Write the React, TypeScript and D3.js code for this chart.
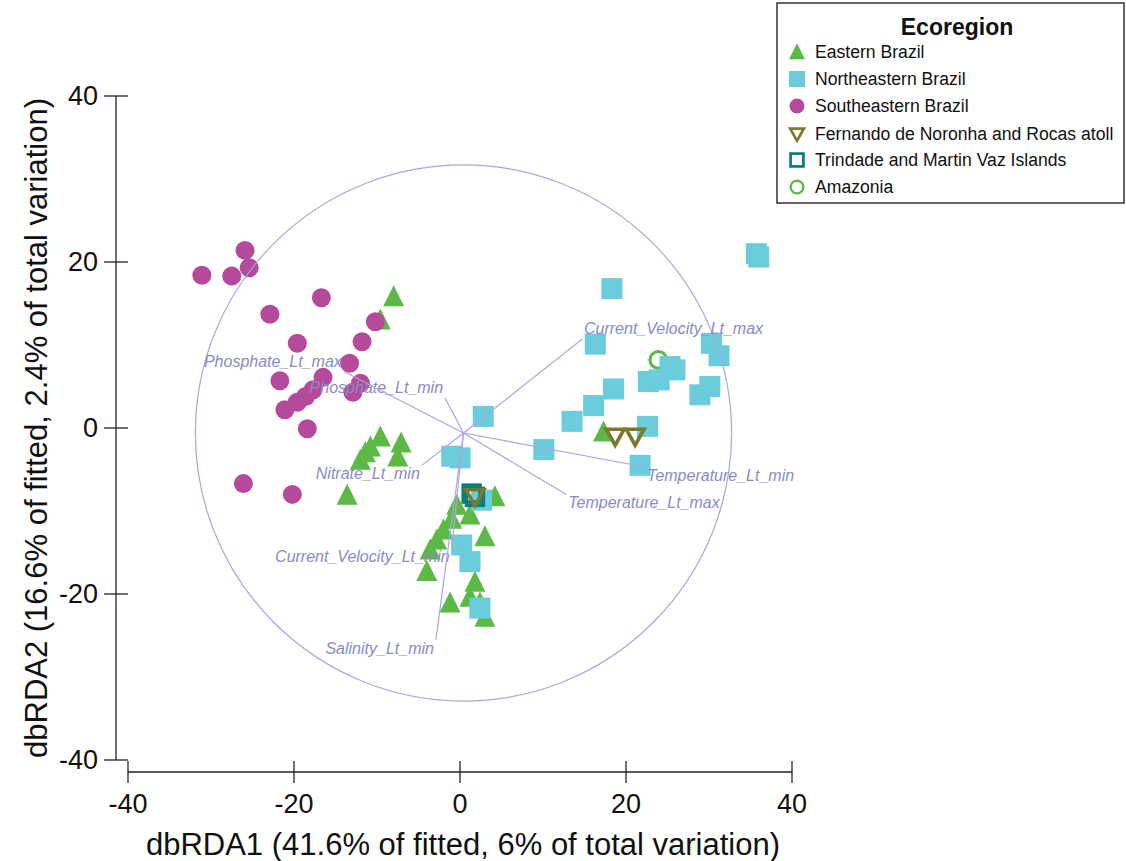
import React from "react";
import * as d3 from "d3";

// dbRDA site scores, by ecoregion
const eastern: [number, number][] = [
  [-8.0, 15.8], [-9.6, 13.0],
  [-9.6, -1.1], [-7.1, -1.8], [-10.8, -2.3], [-11.4, -3.0], [-12.0, -3.9], [-7.5, -3.5], [-13.6, -8.1],
  [4.2, -8.3], [-0.4, -9.3], [1.2, -10.5], [-1.0, -11.0], [-2.0, -12.3], [3.0, -13.1], [-2.8, -13.5],
  [-3.6, -14.7], [-4.0, -17.3], [1.8, -18.6], [1.2, -20.4], [-1.2, -21.1], [2.4, -21.1], [3.0, -22.8],
  [17.3, -0.5],
];
const northeastern: [number, number][] = [
  [18.3, 16.8], [16.3, 10.1], [2.8, 1.4], [-1.0, -3.4], [0.0, -3.6], [10.1, -2.6], [13.5, 0.8],
  [16.1, 2.7], [18.5, 4.7], [35.7, 21.0], [36.0, 20.6], [30.3, 10.2], [31.2, 8.7], [22.7, 5.6],
  [25.3, 7.4], [25.9, 7.0], [24.0, 5.8], [28.9, 4.0], [30.1, 5.0], [22.6, 0.2], [21.7, -4.5],
  [2.6, -8.7], [0.2, -14.1], [1.2, -16.1], [2.4, -21.7],
];
const southeastern: [number, number][] = [
  [-25.9, 21.4], [-31.1, 18.4], [-27.5, 18.3], [-25.4, 19.3], [-16.7, 15.7], [-22.9, 13.7],
  [-10.2, 12.8], [-11.8, 10.4], [-19.6, 10.2], [-13.3, 7.8], [-21.7, 5.7], [-16.5, 6.1],
  [-12.0, 5.4], [-12.9, 4.3], [-17.7, 4.6], [-19.6, 3.1], [-21.1, 2.2], [-18.6, 3.8],
  [-18.4, -0.1], [-26.1, -6.7], [-20.2, -8.0],
];
const noronha: [number, number][] = [[18.7, -1.0], [21.1, -1.0], [1.8, -8.3]];
const trindade: [number, number][] = [[1.4, -7.9], [1.8, -8.3]];
const amazonia: [number, number][] = [[23.9, 8.2]];

// environmental vectors (tips) and the overlay circle
const vectorNames = [
  "Current_Velocity_Lt_max", "Temperature_Lt_min", "Temperature_Lt_max", "Phosphate_Lt_min",
  "Phosphate_Lt_max", "Nitrate_Lt_min", "Current_Velocity_Lt_min", "Salinity_Lt_min",
];
const vectorX = [14.7, 22.3, 12.8, -1.8, -14.0, -4.6, -1.0, -2.9];
const vectorY = [10.7, -4.7, -8.0, 3.6, 6.8, -4.5, -14.5, -25.5];
const vectorOrigin = [0.42, -0.6];
const circleRadius = 32.3;

const ticks = [-40, -20, 0, 20, 40];
const legendLabels = [
  "Eastern Brazil", "Northeastern Brazil", "Southeastern Brazil",
  "Fernando de Noronha and Rocas atoll", "Trindade and Martin Vaz Islands", "Amazonia",
];

const W = 1126;
const H = 861;
const font = "'Liberation Sans', Arial, sans-serif";

const green = "#5cb946";
const cyan = "#6bccdc";
const magenta = "#b5499b";
const olive = "#7a7a2e";
const teal = "#0a7e7a";
const lav = "#a9a8de";
const lavText = "#8a8ac6";

const x = d3.scaleLinear().domain([-40, 40]).range([128, 792]);
const y = d3.scaleLinear().domain([-40, 40]).range([760, 96]);

const tri = (cx: number, cy: number, s: number) =>
  `M${cx},${cy - s * 0.55}L${cx + s / 2},${cy + s * 0.45}L${cx - s / 2},${cy + s * 0.45}Z`;
const invTri = (cx: number, cy: number, s: number) =>
  `M${cx - s / 2},${cy - s * 0.4}L${cx + s / 2},${cy - s * 0.4}L${cx},${cy + s * 0.5}Z`;

const Marker = ({ kind, cx, cy, s }: { kind: number; cx: number; cy: number; s: number }) => {
  if (kind === 0) return <path d={tri(cx, cy, s)} fill={green} />;
  if (kind === 1) return <rect x={cx - s / 2} y={cy - s / 2} width={s} height={s} fill={cyan} />;
  if (kind === 2) return <circle cx={cx} cy={cy} r={s / 2} fill={magenta} />;
  if (kind === 3)
    return <path d={invTri(cx, cy, s * 0.85)} fill="none" stroke={olive} strokeWidth={s * 0.17} strokeLinejoin="miter" />;
  if (kind === 4)
    return (
      <rect x={cx - s * 0.4} y={cy - s * 0.4} width={s * 0.8} height={s * 0.8} fill="none" stroke={teal} strokeWidth={s * 0.17} />
    );
  return <circle cx={cx} cy={cy} r={s * 0.4} fill="none" stroke={green} strokeWidth={s * 0.15} />;
};

export default function App() {
  const ox = x(vectorOrigin[0]);
  const oy = y(vectorOrigin[1]);
  const rPx = x(circleRadius) - x(0);

  const layers: [number, [number, number][]][] = [
    [5, amazonia],
    [0, eastern],
    [1, northeastern],
    [2, southeastern],
    [4, trindade],
    [3, noronha],
  ];

  return (
    <svg width={W} height={H} style={{ position: "absolute", left: 0, top: 0, background: "#fff" }} fontFamily={font}>
      {/* points */}
      {layers.map(([kind, pts]) =>
        pts.map((d, i) => <Marker key={`${kind}-${i}`} kind={kind} cx={x(d[0])} cy={y(d[1])} s={kind === 2 ? 19 : 21} />)
      )}

      {/* vector overlay */}
      <circle cx={ox} cy={oy} r={rPx} fill="none" stroke={lav} strokeWidth={1.2} />
      {vectorNames.map((name, i) => {
        const ex = x(vectorX[i]);
        const ey = y(vectorY[i]);
        const right = ex > ox;
        const up = ey < oy;
        return (
          <g key={name}>
            <line x1={ox} y1={oy} x2={ex} y2={ey} stroke={lav} strokeWidth={1.2} />
            <text
              x={ex + (right ? 2 : -2)}
              y={ey + (up ? -5 : 14)}
              textAnchor={right ? "start" : "end"}
              fontStyle="italic"
              fontSize={16}
              fill={lavText}
            >
              {name}
            </text>
          </g>
        );
      })}

      {/* axes */}
      <line x1={116} x2={116} y1={y(40)} y2={y(-40)} stroke="#222" strokeWidth={1.3} />
      <line x1={x(-40)} x2={x(40)} y1={772} y2={772} stroke="#222" strokeWidth={1.3} />
      {ticks.map((t) => (
        <g key={`y${t}`}>
          <line x1={104} x2={128} y1={y(t)} y2={y(t)} stroke="#222" strokeWidth={1.3} />
          <text x={98} y={y(t)} dy="0.35em" textAnchor="end" fontSize={27} fill="#111">
            {t}
          </text>
        </g>
      ))}
      {ticks.map((t) => (
        <g key={`x${t}`}>
          <line x1={x(t)} x2={x(t)} y1={761} y2={783} stroke="#222" strokeWidth={1.3} />
          <text x={x(t)} y={813} textAnchor="middle" fontSize={27} fill="#111">
            {t}
          </text>
        </g>
      ))}
      <text x={463} y={855} textAnchor="middle" fontSize={31} fill="#111">
        dbRDA1 (41.6% of fitted, 6% of total variation)
      </text>
      <text transform={`translate(47,${y(0)}) rotate(-90)`} textAnchor="middle" fontSize={31} fill="#111">
        dbRDA2 (16.6% of fitted, 2.4% of total variation)
      </text>

      {/* legend */}
      <rect x={777} y={3} width={347} height={200} fill="#fff" stroke="#333" strokeWidth={1.5} />
      <text x={957} y={35} textAnchor="middle" fontSize={23} fontWeight="bold" fill="#111">
        Ecoregion
      </text>
      {legendLabels.map((lab, i) => {
        const ly = [52, 79, 106, 134, 160, 187][i];
        return (
          <g key={lab}>
            <Marker kind={i} cx={797} cy={ly} s={i === 2 ? 15 : 16} />
            <text x={815} y={ly} dy="0.35em" fontSize={17.6} fill="#111">
              {lab}
            </text>
          </g>
        );
      })}
    </svg>
  );
}
